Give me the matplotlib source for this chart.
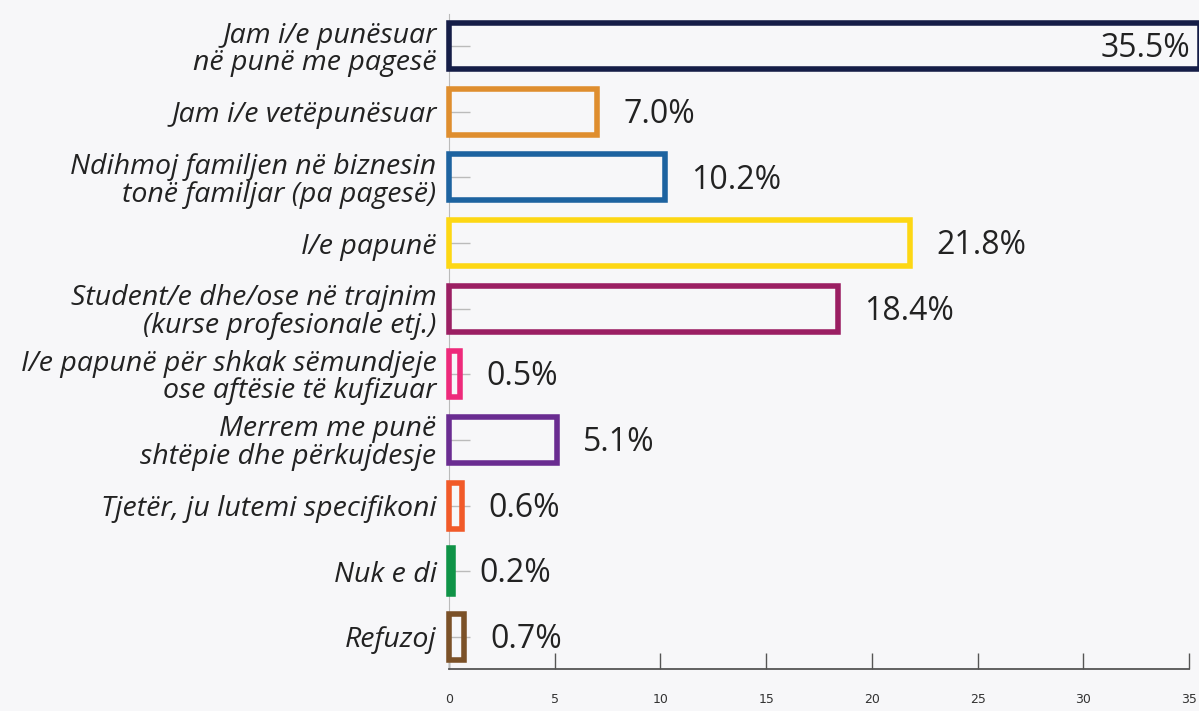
import numpy as np
import matplotlib.pyplot as plt

categories = [
    'Jam i/e punësuar\nnë punë me pagesë',
    'Jam i/e vetëpunësuar',
    'Ndihmoj familjen në biznesin\ntonë familjar (pa pagesë)',
    'I/e papunë',
    'Student/e dhe/ose në trajnim\n(kurse profesionale etj.)',
    'I/e papunë për shkak sëmundjeje\nose aftësie të kufizuar',
    'Merrem me punë\nshtëpie dhe përkujdesje',
    'Tjetër, ju lutemi specifikoni',
    'Nuk e di',
    'Refuzoj',
]
values = [35.5, 7.0, 10.2, 21.8, 18.4, 0.5, 5.1, 0.6, 0.2, 0.7]
colors = ['#151d47', '#df8e2f', '#1d63a0', '#fdd714', '#9b1f63',
          '#ee2a7b', '#6a2c91', '#f15a29', '#0f9347', '#7b5128']
xticks = [0, 5, 10, 15, 20, 25, 30, 35]

bg = '#f7f7f9'
fig = plt.figure(figsize=(11.99, 7.11), dpi=100, facecolor=bg)
ax = fig.add_axes([0.3745, 0.0591, 0.6172, 0.9212], facecolor=bg)

y = np.arange(len(categories))
ax.barh(y, values, height=0.7, facecolor='none', edgecolor=colors,
        linewidth=4, zorder=3, clip_on=False)

for yi, v in zip(y, values):
    label = f'{v:.1f}%'
    if v > 35:
        ax.text(v - 0.45, yi + 0.04, label, ha='right', va='center', fontsize=23,
                family='Open Sans', color='#222222', zorder=4)
    else:
        ax.text(v + 1.25, yi + 0.04, label, ha='left', va='center', fontsize=23,
                family='Open Sans', color='#222222', zorder=4)

ax.set_xlim(0, 35)
ax.set_ylim(9.49, -0.49)
ax.set_yticks(y)
ax.set_yticklabels(categories, fontsize=20.5, style='italic',
                   family='Open Sans', color='#222222', linespacing=0.98)
ax.set_xticks(xticks)
ax.set_xticklabels([str(t) for t in xticks], fontsize=9, color='#333333')

ax.tick_params(axis='y', direction='in', length=15, width=1,
               color='#bbbbbb', pad=9)
ax.tick_params(axis='x', direction='in', length=11.5, width=1,
               color='#555555', pad=17)

for s in ['top', 'right']:
    ax.spines[s].set_visible(False)
ax.spines['left'].set_color('#bbbbbb')
ax.spines['bottom'].set_color('#555555')
ax.spines['bottom'].set_linewidth(1.3)

fig.savefig('out.png', dpi=100, facecolor=bg)
